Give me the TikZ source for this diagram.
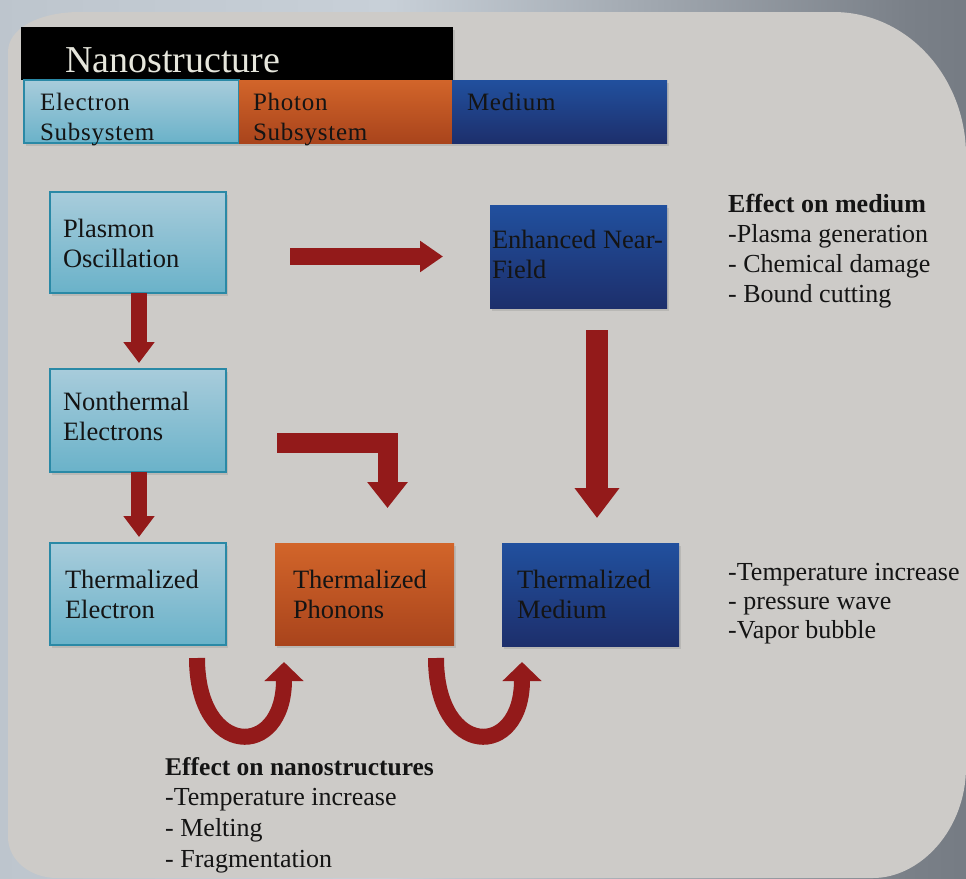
\documentclass[tikz,border=0pt]{standalone}
\usepackage{fontspec}
\setmainfont{Liberation Serif}
\newfontfamily\subfont[LetterSpace=3]{Liberation Serif}
\usetikzlibrary{arrows.meta,shadows,calc}

\definecolor{bgA}{HTML}{868E96}
\definecolor{bgB}{HTML}{B4BCC4}
\definecolor{bgC}{HTML}{C8D0D8}
\definecolor{bgD}{HTML}{7A8088}
\definecolor{bgE}{HTML}{50565E}
\definecolor{panel}{HTML}{CDCBC8}
\definecolor{ltTop}{HTML}{A8CCDB}
\definecolor{ltBot}{HTML}{6AB2C9}
\definecolor{ltEdge}{HTML}{2A89A6}
\definecolor{orTop}{HTML}{D2652A}
\definecolor{orBot}{HTML}{A9441C}
\definecolor{blTop}{HTML}{21509E}
\definecolor{blBot}{HTML}{1D2F6C}
\definecolor{txt}{HTML}{141414}
\definecolor{hdrtxt}{HTML}{E6E6DC}
\definecolor{arrowred}{HTML}{931A1A}

\pgfdeclarehorizontalshading{bgshade}{100bp}{color(0bp)=(bgA); color(1bp)=(bgA); color(8bp)=(bgB); color(45bp)=(bgC); color(72bp)=(bgD); color(100bp)=(bgE)}

\newcommand{\btext}[5]{\hspace*{#1}\parbox[t][#3][t]{#2}{\raggedright\rule{0pt}{#4}#5}}

\tikzset{
  box/.style={anchor=north west, inner sep=0pt, outer sep=0pt, text=txt,
    font=\fontsize{26.5}{30}\selectfont,
    drop shadow={opacity=0.25, shadow xshift=2pt, shadow yshift=-3pt}},
  ltbox/.style={box, top color=ltTop, bottom color=ltBot, draw=ltEdge, line width=1.5pt},
  orbox/.style={box, top color=orTop, bottom color=orBot},
  blbox/.style={box, top color=blTop, bottom color=blBot},
  hdrbox/.style={box, fill=black, text=hdrtxt, font=\fontsize{38}{40}\selectfont},
  subrow/.style={font=\subfont\fontsize{25}{30}\selectfont},
  sidetext/.style={anchor=base west, inner sep=0pt, text=txt},
  arrowsmall/.style={draw=arrowred, line width=16pt, -{Triangle[length=21pt,width=30pt]}},
  arrowhoriz/.style={draw=arrowred, line width=17pt, -{Triangle[length=23pt,width=30pt]}},
  arrowelbow/.style={draw=arrowred, line width=20pt, -{Triangle[length=26pt,width=39pt]}},
  arrowlong/.style={draw=arrowred, line width=22pt, -{Triangle[length=30pt,width=43pt]}},
  arrowu/.style={draw=arrowred, line width=16pt, -{Triangle[length=19pt,width=38pt]}}
}

\begin{document}
\begin{tikzpicture}[x=1pt,y=-1pt]
\useasboundingbox (0,0) rectangle (966,878);
\shade[shading=bgshade] (0,0) rectangle (966,878);
\fill[panel] (8,52) .. controls (8,28) and (40,12) .. (80,12) -- (833,12)
  .. controls (910,12) and (966,80) .. (966,155) -- (966,767)
  .. controls (966,830) and (920,878) .. (873,878) -- (57,878)
  .. controls (30,878) and (8,860) .. (8,837) -- cycle;

% header
\node[hdrbox] (hdr) at (21,27) {\btext{44pt}{388pt}{53pt}{45pt}{Nanostructure}};
\node[ltbox, subrow] (esub) at (24,80) {\btext{16pt}{199pt}{63pt}{30pt}{Electron\\Subsystem}};
\node[orbox, subrow] (psub) at (239,80) {\btext{14pt}{199pt}{63pt}{30pt}{Photon\\Subsystem}};
\node[blbox, subrow] (msub) at (452,80) {\btext{15pt}{200pt}{63pt}{30pt}{Medium}};

% boxes
\node[ltbox] (plasmon) at (50,192) {\btext{13pt}{163pt}{101pt}{45pt}{Plasmon\\Oscillation}};
\node[ltbox] (nonth) at (50,369) {\btext{13pt}{163pt}{103pt}{41pt}{Nonthermal\\Electrons}};
\node[ltbox] (te) at (50,543) {\btext{15pt}{161pt}{102pt}{45pt}{Thermalized\\Electron}};
\node[orbox] (phon) at (275,543) {\btext{18pt}{161pt}{102pt}{45pt}{Thermalized\\Phonons}};
\node[blbox] (med) at (502,543) {\btext{15pt}{162pt}{103pt}{45pt}{Thermalized\\Medium}};
\node[blbox] (enh) at (490,205) {\btext{2pt}{175pt}{103pt}{43pt}{Enhanced Near-\\Field}};

% side texts
\node[sidetext, font=\fontsize{26}{30}\selectfont] (effmed) at (728,212)
  {\parbox[t]{236pt}{\raggedright\textbf{Effect on medium}\\-Plasma generation\\- Chemical damage\\- Bound cutting}};
\node[sidetext, font=\fontsize{26}{29}\selectfont] (tempmed) at (728,580)
  {\parbox[t]{236pt}{\raggedright -Temperature increase\\- pressure wave\\-Vapor bubble}};
\node[sidetext, font=\fontsize{26}{30.7}\selectfont] (effnano) at (165,775)
  {\parbox[t]{300pt}{\raggedright\textbf{\fontsize{25.5}{30.7}\selectfont Effect on nanostructures}\\-Temperature increase\\- Melting\\- Fragmentation}};

% arrows
\draw[arrowhoriz, shorten <=64pt, shorten >=47pt] (plasmon.east |- enh.west) -- (enh.west);
\draw[arrowsmall, shorten >=6pt] ([xshift=1pt]plasmon.south) -- ([xshift=1pt]nonth.north);
\draw[arrowsmall, shorten >=6pt] ([xshift=1pt]nonth.south) -- ([xshift=1pt]te.north);
\coordinate (elbowstart) at ($(nonth.east)+(51,22.5)$);
\draw[arrowelbow, shorten >=35pt] (elbowstart) -| ([xshift=23pt]phon.north);
\coordinate (vtop) at ([xshift=18.5pt]enh.south);
\draw[arrowlong, shorten <=22pt, shorten >=25pt] (vtop) -- (vtop |- med.north);
\coordinate (u1s) at ($(te.south east)+(-29,13)$);
\coordinate (u1e) at ($(phon.south west)+(9,17)$);
\draw[arrowu] (u1s) .. controls +(0,100) and +(0,98) .. (u1e);
\coordinate (u2s) at ($(phon.south east)+(-18,13)$);
\coordinate (u2e) at ($(med.south west)+(20,16)$);
\draw[arrowu] (u2s) .. controls +(0,100) and +(0,98) .. (u2e);
\end{tikzpicture}
\end{document}
